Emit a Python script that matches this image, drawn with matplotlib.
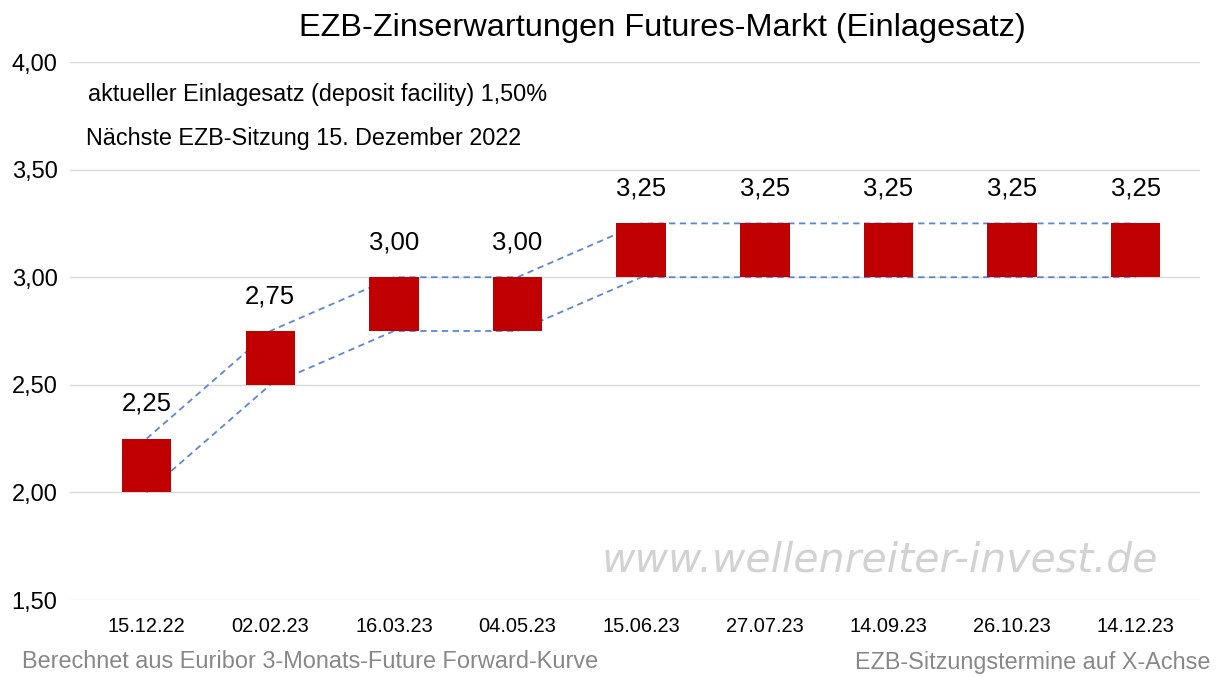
import matplotlib.pyplot as plt

plt.rcParams['font.family'] = ['Liberation Sans', 'DejaVu Sans']

# EZB-Sitzungstermine und erwarteter Einlagesatz (Spanne unten/oben)
dates = ['15.12.22', '02.02.23', '16.03.23', '04.05.23', '15.06.23',
         '27.07.23', '14.09.23', '26.10.23', '14.12.23']
rate_low = [2.00, 2.50, 2.75, 2.75, 3.00, 3.00, 3.00, 3.00, 3.00]
rate_high = [2.25, 2.75, 3.00, 3.00, 3.25, 3.25, 3.25, 3.25, 3.25]
y_ticks = [1.50, 2.00, 2.50, 3.00, 3.50, 4.00]

fig = plt.figure(figsize=(12.22, 6.77), dpi=100)
ax = fig.add_axes([70 / 1222, 1 - 600 / 677, 1130 / 1222, 538 / 677])

x = list(range(len(dates)))
heights = [h - l for l, h in zip(rate_low, rate_high)]

# Verbindungslinien (hinter den Balken)
ax.plot(x, rate_high, ls='--', color='#5b86d6', lw=1.3, dashes=(3.5, 2.5), zorder=2)
ax.plot(x, rate_low, ls='--', color='#5b86d6', lw=1.3, dashes=(3.5, 2.5), zorder=2)

ax.bar(x, heights, bottom=rate_low, width=0.40, color='#c00000', zorder=3)

for xi, h in zip(x, rate_high):
    ax.annotate(f'{h:.2f}'.replace('.', ','), (xi, h), xytext=(0, 25),
                textcoords='offset points', ha='center', va='center',
                fontsize=18.5, color='black')

ax.set_ylim(1.5, 4.0)
ax.set_xlim(-0.62, len(dates) - 0.48)
ax.set_yticks(y_ticks)
ax.set_yticklabels([f'{v:.2f}'.replace('.', ',') for v in y_ticks])
ax.set_xticks(x)
ax.set_xticklabels(dates)
ax.tick_params(axis='y', length=0, pad=9, labelsize=17)
ax.tick_params(axis='x', length=0, pad=12, labelsize=14.4)
ax.grid(axis='y', color='#d9d9d9', lw=1, zorder=0)
ax.set_axisbelow(True)
for s in ax.spines.values():
    s.set_visible(False)

fig.text(662 / 1222, 1 - 28 / 677, 'EZB-Zinserwartungen Futures-Markt (Einlagesatz)',
         ha='center', va='center', fontsize=23.4)
fig.text(88 / 1222, 1 - 95 / 677, 'aktueller Einlagesatz (deposit facility) 1,50%',
         ha='left', va='center', fontsize=16.8)
fig.text(86 / 1222, 1 - 138 / 677, 'Nächste EZB-Sitzung 15. Dezember 2022',
         ha='left', va='center', fontsize=16.8)
fig.text(880 / 1222, 1 - 560 / 677, 'www.wellenreiter-invest.de',
         ha='center', va='center', fontsize=29.5, style='italic',
         color='#d2d2d2', family='DejaVu Sans')
fig.text(22 / 1222, 1 - 662 / 677, 'Berechnet aus Euribor 3-Monats-Future Forward-Kurve',
         ha='left', va='center', fontsize=16.9, color='#888888')
fig.text(1210 / 1222, 1 - 662 / 677, 'EZB-Sitzungstermine auf X-Achse',
         ha='right', va='center', fontsize=16.8, color='#888888')

fig.savefig('out.png', dpi=100)
